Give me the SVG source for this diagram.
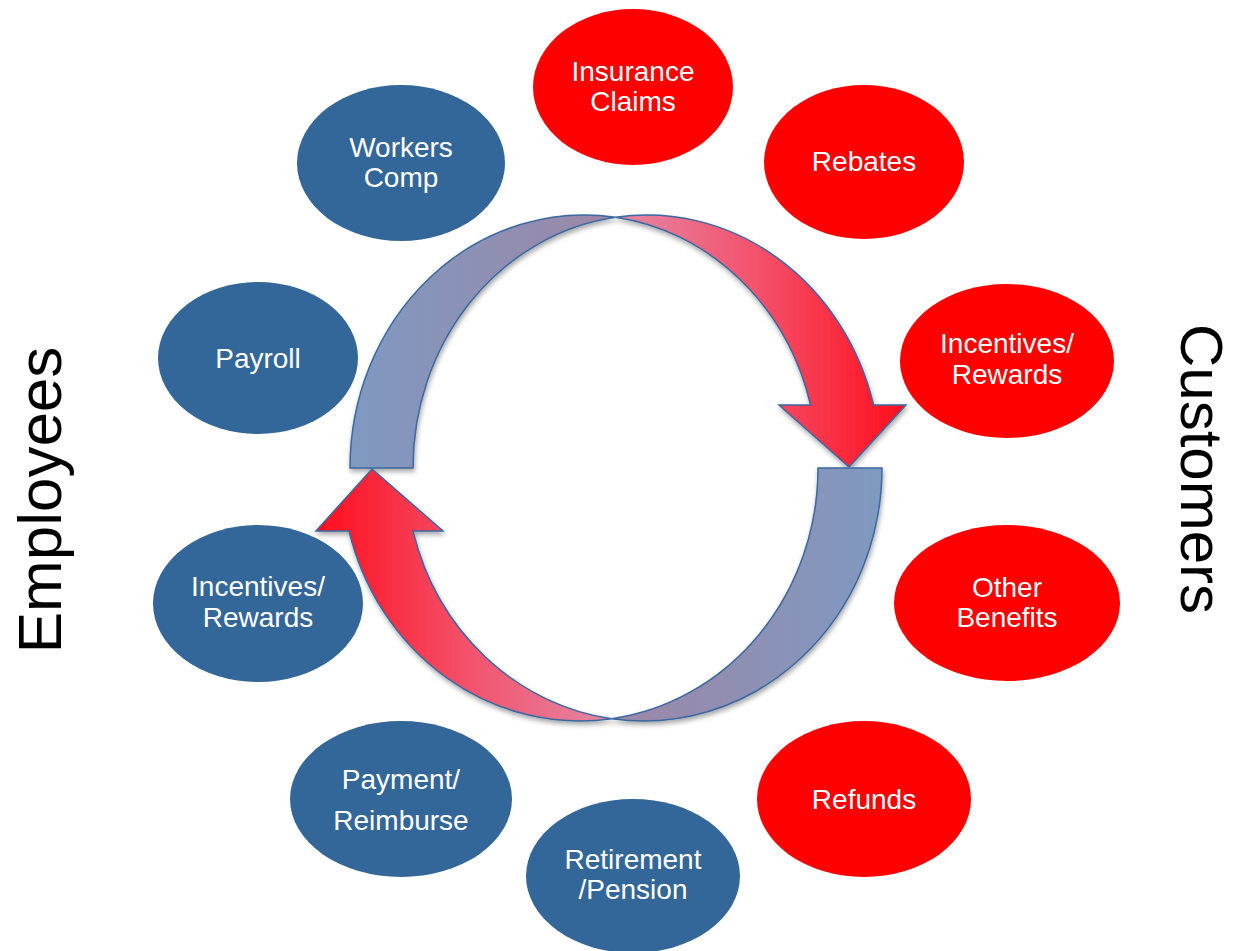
<svg xmlns="http://www.w3.org/2000/svg" width="1236" height="951" viewBox="0 0 1236 951">
  <defs>
    <style>
      .blue { fill: #336699; }
      .red { fill: #ff0000; }
      .lbl { font-family: "Liberation Sans", Arial, sans-serif; font-size: 28px; fill: #ffffff; text-anchor: middle; }
      .side { font-family: "Liberation Sans", Arial, sans-serif; font-size: 62px; fill: #000000; text-anchor: middle; }
      .band { stroke: #3a68a0; stroke-width: 1.5; stroke-linejoin: miter; }
    </style>
    <!-- top arc: back band (left) and front band (right, with head) -->
    <linearGradient id="gTopBack" gradientUnits="userSpaceOnUse" x1="350" y1="0" x2="616" y2="0">
      <stop offset="0" stop-color="#7f99c1"/>
      <stop offset="1" stop-color="#9d87a6"/>
    </linearGradient>
    <linearGradient id="gTopFront" gradientUnits="userSpaceOnUse" x1="616" y1="0" x2="906" y2="0">
      <stop offset="0" stop-color="#e387a6"/>
      <stop offset="0.5" stop-color="#f4506a"/>
      <stop offset="1" stop-color="#ff0d1c"/>
    </linearGradient>
    <!-- bottom arc: front band (left, with head) and back band (right) -->
    <linearGradient id="gBotFront" gradientUnits="userSpaceOnUse" x1="316" y1="0" x2="612" y2="0">
      <stop offset="0" stop-color="#ff0d1c"/>
      <stop offset="0.5" stop-color="#f4506a"/>
      <stop offset="1" stop-color="#e387a6"/>
    </linearGradient>
    <linearGradient id="gBotBack" gradientUnits="userSpaceOnUse" x1="612" y1="0" x2="882" y2="0">
      <stop offset="0" stop-color="#9d87a6"/>
      <stop offset="1" stop-color="#7f99c1"/>
    </linearGradient>
    <filter id="shadow" x="-10%" y="-10%" width="120%" height="120%">
      <feDropShadow dx="1" dy="3" stdDeviation="2.5" flood-color="#000000" flood-opacity="0.35"/>
    </filter>
  </defs>

  <rect width="1236" height="951" fill="#ffffff"/>

  <!-- curved arrows -->
  <g id="connectors" filter="url(#shadow)">
    <g id="arrow-top">
      <path class="band" fill="url(#gTopBack)"
            d="M 350 468 A 234 253 0 0 1 615.5 217.3 A 234 253 0 0 0 413 468 Z"/>
      <path class="band" fill="url(#gTopFront)"
            d="M 615.5 217.3 A 234 253 0 0 1 873.6 405 L 906 405 L 849 467 L 779 405 L 810.6 405 A 234 253 0 0 0 615.5 217.3 Z"/>
    </g>
    <g id="arrow-bottom">
      <path class="band" fill="url(#gBotBack)"
            d="M 882 468 A 238.3 253 0 0 1 611.7 718.7 A 238.3 253 0 0 0 818 468 Z"/>
      <path class="band" fill="url(#gBotFront)"
            d="M 611.7 718.7 A 238.3 253 0 0 1 349 531 L 316 531 L 372 469 L 443 531 L 413 531 A 238.3 253 0 0 0 611.7 718.7 Z"/>
    </g>
  </g>

  <!-- customer side -->
  <g id="insurance-claims">
    <ellipse class="red" cx="633" cy="87" rx="100" ry="78"/>
    <text class="lbl" x="633" y="81">Insurance</text>
    <text class="lbl" x="633" y="111">Claims</text>
  </g>
  <g id="rebates">
    <ellipse class="red" cx="864" cy="162" rx="100" ry="77"/>
    <text class="lbl" x="864" y="171">Rebates</text>
  </g>
  <g id="customer-incentives">
    <ellipse class="red" cx="1007" cy="361" rx="107" ry="77"/>
    <text class="lbl" x="1007" y="353">Incentives/</text>
    <text class="lbl" x="1007" y="384">Rewards</text>
  </g>
  <g id="other-benefits">
    <ellipse class="red" cx="1007" cy="603" rx="113" ry="78"/>
    <text class="lbl" x="1007" y="597">Other</text>
    <text class="lbl" x="1007" y="627">Benefits</text>
  </g>
  <g id="refunds">
    <ellipse class="red" cx="864" cy="799" rx="107" ry="78"/>
    <text class="lbl" x="864" y="809">Refunds</text>
  </g>

  <!-- employee side -->
  <g id="workers-comp">
    <ellipse class="blue" cx="401" cy="163" rx="104" ry="78"/>
    <text class="lbl" x="401" y="157">Workers</text>
    <text class="lbl" x="401" y="187">Comp</text>
  </g>
  <g id="payroll">
    <ellipse class="blue" cx="258" cy="358" rx="100" ry="76"/>
    <text class="lbl" x="258" y="368">Payroll</text>
  </g>
  <g id="employee-incentives">
    <ellipse class="blue" cx="258" cy="603.5" rx="105" ry="78.5"/>
    <text class="lbl" x="258" y="596">Incentives/</text>
    <text class="lbl" x="258" y="627">Rewards</text>
  </g>
  <g id="payment-reimburse">
    <ellipse class="blue" cx="401" cy="799" rx="111" ry="78"/>
    <text class="lbl" x="401" y="789">Payment/</text>
    <text class="lbl" x="401" y="830">Reimburse</text>
  </g>
  <g id="retirement-pension">
    <ellipse class="blue" cx="633" cy="876" rx="107" ry="77"/>
    <text class="lbl" x="633" y="869">Retirement</text>
    <text class="lbl" x="633" y="899">/Pension</text>
  </g>

  <!-- side captions -->
  <text class="side" transform="translate(61 500) rotate(-90)">Employees</text>
  <text class="side" style="font-size:60px" transform="translate(1181 469) rotate(90)">Customers</text>
</svg>
